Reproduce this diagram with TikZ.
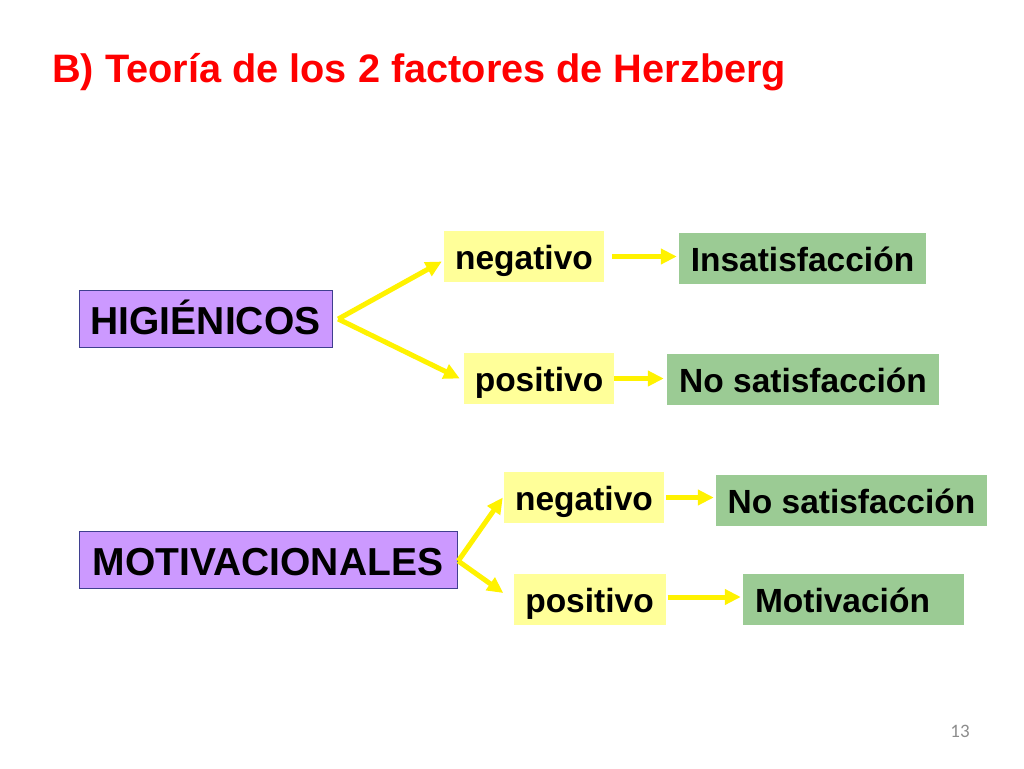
\documentclass[tikz,border=0pt]{standalone}
\usepackage{fontspec}
\setmainfont{Liberation Sans}
\newfontfamily\pagefont{Carlito}
\usetikzlibrary{arrows.meta}

\definecolor{titlered}{HTML}{FF0000}
\definecolor{lilac}{HTML}{CC99FF}
\definecolor{lilacline}{HTML}{3F3F8F}
\definecolor{paleyellow}{HTML}{FFFF99}
\definecolor{sagegreen}{HTML}{9BCB94}
\definecolor{pagegray}{HTML}{8C8C8C}

\begin{document}
\begin{tikzpicture}[
    x = 1pt, y = -1pt,
    factor/.style = {draw = lilacline, fill = lilac,
      font = \fontsize{39}{39}\selectfont\bfseries,
      text height = 30pt, text depth = 0pt,
      minimum height = {57pt}, inner xsep = 10pt},
    sign/.style = {fill = paleyellow,
      font = \fontsize{33.5}{33.5}\selectfont\bfseries,
      text height = 26pt, text depth = 0pt,
      minimum height = {51pt}},
    result/.style = {fill = sagegreen,
      font = \fontsize{33.5}{33.5}\selectfont\bfseries,
      text height = 26pt, text depth = 0pt,
      minimum height = {51pt}},
    link/.style = {draw = yellow, line width = 5pt,
      -{Triangle[length = 16pt, width = 15pt]}},
    ]

    \useasboundingbox (0, 0) rectangle (1024, 768);

    \node at (52, 82) [anchor = base west, inner sep = 0pt,
      text = titlered, font = \fontsize{39.7}{40}\selectfont\bfseries,
      name = title] {B) Teoría de los 2 factores de Herzberg};

    % higienicos
    \node at (205.5, 319)
    [factor, minimum width = {253pt}, name = HIG] {HIGIÉNICOS};
    \node at (524, 256.5)
    [sign, minimum width = {160pt}, name = neg_h] {negativo};
    \node at (539, 378.5)
    [sign, minimum width = {150pt}, name = pos_h] {positivo};
    \node at (802.5, 258.5)
    [result, minimum width = {247pt}, name = ins_h] {Insatisfacción};
    \node at (803, 379.5)
    [result, minimum width = {272pt}, name = nos_h] {No satisfacción};

    % motivacionales
    \node at (268, 560)
    [factor, minimum width = {378pt}, name = MOT] {MOTIVACIONALES};
    \node at (584, 497.5)
    [sign, minimum width = {160pt}, name = neg_m] {negativo};
    \node at (589.5, 599)
    [sign, minimum width = {152pt}, name = pos_m] {positivo};
    \node at (851.5, 500)
    [result, minimum width = {271pt}, name = nos_m] {No satisfacción};
    \node at (853.5, 599)
    [result, inner xsep = 12pt, text width = {197pt}, align = left,
      name = mot_m] {Motivación};

    \draw [link] ([xshift = 6pt]HIG.east) to ([xshift = -2pt, yshift = -5pt]neg_h.west);
    \draw [link] ([xshift = 6pt]HIG.east) to ([xshift = -4pt]pos_h.west);
    \draw [link] ([xshift = 8pt]neg_h.east) to ([xshift = -2pt]neg_h.east -| ins_h.west);
    \draw [link] (pos_h.east) to ([xshift = -3pt]pos_h.east -| nos_h.west);

    \draw [link] ([xshift = 1pt, yshift = -1pt]MOT.east) to ([xshift = -1pt]neg_m.west);
    \draw [link] ([xshift = 1pt, yshift = -1pt]MOT.east) to ([xshift = -10pt, yshift = 6pt]pos_m.west);
    \draw [link] ([xshift = 2pt]neg_m.east) to ([xshift = -2pt]neg_m.east -| nos_m.west);
    \draw [link] ([xshift = 2pt, yshift = 2pt]pos_m.east)
    to ([xshift = -2pt, yshift = 2pt]pos_m.east -| mot_m.west);

    \node at (960, 731) [text = pagegray,
      font = \pagefont\fontsize{19}{19}\selectfont, name = page] {13};

  \end{tikzpicture}
\end{document}
